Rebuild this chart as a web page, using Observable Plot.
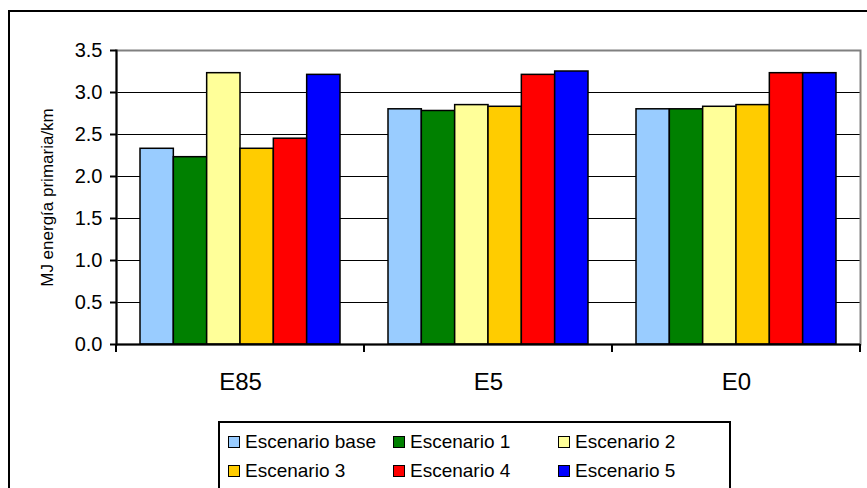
<!DOCTYPE html>
<html><head><meta charset="utf-8">
<script src="https://cdn.jsdelivr.net/npm/d3@7"></script>
<script src="https://cdn.jsdelivr.net/npm/@observablehq/plot@0.6"></script>
<style>
body{margin:0;background:#fff;}
#wrap{position:relative;width:867px;height:488px;overflow:hidden;font-family:"Liberation Sans",Arial,sans-serif;background:#fff;}
#outer{position:absolute;left:8px;top:10px;width:900px;height:520px;border:2px solid #000;box-sizing:border-box;}
#chart{position:absolute;left:0;top:0;}
#legend{position:absolute;left:218px;top:421px;width:513px;height:70px;border:2px solid #000;box-sizing:border-box;background:#fff;}
.li{position:absolute;display:flex;align-items:center;font-size:19px;color:#000;white-space:nowrap;line-height:22px;}
.sw{width:10px;height:10px;border:1.5px solid #000;margin-right:5px;}
</style></head>
<body><div id="wrap"><div id="outer"></div><div id="chart"></div><div id="legend"></div></div>
<script>
const categories = ["E85", "E5", "E0"];
const scenarios = ["Escenario base", "Escenario 1", "Escenario 2", "Escenario 3", "Escenario 4", "Escenario 5"];
const colors = ["#99CCFF", "#008000", "#FFFF99", "#FFCC00", "#FF0000", "#0000FF"];
const escenarioBase = [2.33, 2.80, 2.80];
const escenario1   = [2.23, 2.78, 2.80];
const escenario2   = [3.23, 2.85, 2.83];
const escenario3   = [2.33, 2.83, 2.85];
const escenario4   = [2.45, 3.21, 3.23];
const escenario5   = [3.21, 3.25, 3.23];
const yTicks = [0, 0.5, 1.0, 1.5, 2.0, 2.5, 3.0, 3.5];

const series = [escenarioBase, escenario1, escenario2, escenario3, escenario4, escenario5];
const data = series.map((vals, s) => categories.map((c, i) => ({category: c, scenario: scenarios[s], value: vals[i]})));

const W = 867, H = 488, mL = 116, mR = 7, mT = 50, mB = 144;
const band = (W - mL - mR) / categories.length;   // width of each category band
const groupPad = 24;
const barW = (band - 2 * groupPad) / scenarios.length;

const barMarks = data.map((rows, s) => Plot.barY(rows, {
  x: "category", y: "value", fill: colors[s], stroke: "#000", strokeWidth: 1.5,
  insetLeft: groupPad + s * barW, insetRight: band - groupPad - (s + 1) * barW
}));

const plot = Plot.plot({
  width: W, height: H,
  marginLeft: mL, marginRight: mR, marginTop: mT, marginBottom: mB,
  style: {fontFamily: "Liberation Sans, Arial, sans-serif", fontSize: "19px", background: "transparent", color: "#000"},
  x: {domain: categories, padding: 0},
  y: {domain: [0, 3.5]},
  marks: [
    Plot.ruleY(yTicks.filter(d => d > 0 && d < 3.5), {stroke: "#000", strokeWidth: 1}),
    Plot.frame({stroke: "#808080", strokeWidth: 2}),
    ...barMarks,
    Plot.ruleY([0], {stroke: "#000", strokeWidth: 2}),
    Plot.frame({anchor: "left", stroke: "#000", strokeWidth: 2}),
    Plot.axisY({ticks: yTicks, tickFormat: d3.format(".1f"), tickSize: 6, tickPadding: 8, strokeWidth: 2, fontSize: 20, label: null}),
    Plot.axisY({ticks: [], tickSize: 0, label: "MJ energía primaria/km", labelAnchor: "center", labelArrow: "none", labelOffset: 76, fontSize: 17}),
    Plot.axisX({tickSize: 0, tickPadding: 28, label: null, fontSize: 24})
  ]
});
document.getElementById("chart").appendChild(plot);

// make sure axis text sizes are applied
d3.select(plot).selectAll('g[aria-label="y-axis tick label"]').attr("font-size", 20).selectAll("text").attr("font-size", 20);
d3.select(plot).selectAll('g[aria-label="y-axis label"]').attr("font-size", 17).selectAll("text").attr("font-size", 17);

// category boundary ticks (Excel style) using the plot's x scale
const xs = plot.scale("x");
const ys = plot.scale("y");
const y0 = ys.apply(0);
const bounds = categories.map(c => xs.apply(c)).concat([xs.apply(categories[categories.length - 1]) + xs.bandwidth]);
d3.select(plot).append("g").selectAll("line").data(bounds).join("line")
  .attr("x1", d => d).attr("x2", d => d).attr("y1", y0).attr("y2", y0 + 8)
  .attr("stroke", "#000").attr("stroke-width", 2);

// legend
const legend = document.getElementById("legend");
const colX = [8, 173, 338], rowY = [8, 37];
scenarios.forEach((s, i) => {
  const el = document.createElement("div");
  el.className = "li";
  el.style.left = colX[i % 3] + "px";
  el.style.top = rowY[Math.floor(i / 3)] + "px";
  el.innerHTML = `<span class="sw" style="background:${colors[i]}"></span><span>${s}</span>`;
  legend.appendChild(el);
});
</script></body></html>
